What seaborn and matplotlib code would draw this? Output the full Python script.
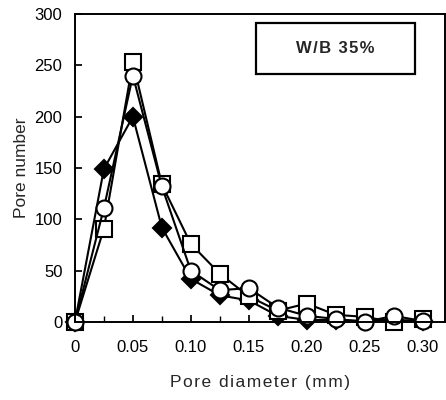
import numpy as np
import pandas as pd
import matplotlib
matplotlib.use("Agg")
import matplotlib.pyplot as plt
import seaborn as sns
from matplotlib.patches import Rectangle
from matplotlib.ticker import MultipleLocator

# pore diameter classes (mm) and pore counts
diameter = [0, 0.025, 0.05, 0.075, 0.10, 0.125, 0.15, 0.175, 0.20, 0.225, 0.25, 0.275, 0.30]
diamond_counts = [0, 149, 200, 92, 42, 26, 21, 6, 2, 2, 1, 2, 1]
square_counts = [0, 91, 253, 134, 76, 47, 25, 11, 18, 7, 5, 0, 3]
circle_counts = [0, 111, 240, 132, 50, 31, 33, 14, 6, 3, 0, 6, 1]

x_ticks = [0, 0.05, 0.10, 0.15, 0.20, 0.25, 0.30]
x_tick_labels = ["0", "0.05", "0.10", "0.15", "0.20", "0.25", "0.30"]
y_ticks = [0, 50, 100, 150, 200, 250, 300]

sns.set_theme(style="ticks")
plt.rcParams["font.family"] = ["Liberation Sans", "DejaVu Sans"]


def spaced(s, gap="\u200a"):
    # the scanned figure has wide letter spacing
    return gap.join(s)


fig = plt.figure(figsize=(4.46, 4.0), dpi=100)
ax = fig.add_axes([0.168, 0.195, 0.829, 0.77])

# draw order: diamonds, squares, circles on top
series = [
    (diamond_counts, "D", "black", 9.5),
    (square_counts, "s", "white", 12),
    (circle_counts, "o", "white", 11.5),
]
for counts, mk, face, ms in series:
    df = pd.DataFrame({"d": diameter, "n": counts})
    sns.lineplot(data=df, x="d", y="n", ax=ax, color="black", linewidth=1.5,
                 marker=mk, markersize=ms, markerfacecolor=face,
                 markeredgecolor="black", markeredgewidth=1.5, clip_on=False)

ax.set_xlim(0, 0.319)
ax.set_ylim(0, 300)
ax.set_xticks(x_ticks)
ax.set_xticklabels(x_tick_labels)
ax.set_yticks(y_ticks)
ax.xaxis.set_minor_locator(MultipleLocator(0.025))
ax.tick_params(axis="both", which="both", direction="in", labelsize=12, colors="black")
ax.tick_params(axis="x", which="major", length=5, pad=13)
ax.tick_params(axis="x", which="minor", length=4)
ax.tick_params(axis="y", which="major", length=5, pad=9)

for sp in ax.spines.values():
    sp.set_visible(True)
    sp.set_linewidth(1.4)
    sp.set_color("black")

ax.set_xlabel(spaced("Pore diameter (mm)"), fontsize=12.5, labelpad=14)
ax.set_ylabel("Pore number", fontsize=12.5, labelpad=4)

# label box in the upper right
ax.add_patch(Rectangle((0.49, 0.805), 0.431, 0.166, transform=ax.transAxes,
                       fill=False, edgecolor="black", linewidth=1.6))
ax.text(0.705, 0.888, spaced("W/B 35%"), transform=ax.transAxes, ha="center", va="center",
        fontsize=12, fontweight="bold")

fig.savefig("out.png", dpi=100)
